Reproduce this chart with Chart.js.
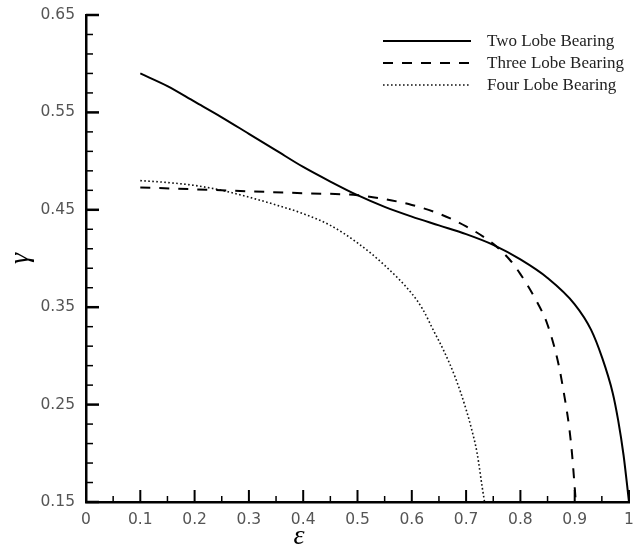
<!DOCTYPE html>
<html>
<head>
<meta charset="utf-8">
<script src="https://cdn.jsdelivr.net/npm/chart.js@4.4.1/dist/chart.umd.min.js"></script>
<style>
    html, body { margin: 0; padding: 0; background: #fff; }
    #wrap { width: 638px; height: 552px; position: relative; }
</style>
</head>
<body>
<div id="wrap"><canvas id="chart"></canvas></div>
<script>
// values
const twoX   = [0.1, 0.15, 0.2, 0.25, 0.3, 0.35, 0.4, 0.45, 0.5, 0.55, 0.6, 0.65, 0.7, 0.75, 0.8, 0.85, 0.9, 0.93, 0.95, 0.97, 0.98, 0.99, 1.0];
const twoY   = [0.590, 0.577, 0.561, 0.545, 0.528, 0.511, 0.494, 0.479, 0.465, 0.453, 0.443, 0.434, 0.425, 0.414, 0.399, 0.380, 0.353, 0.327, 0.299, 0.262, 0.234, 0.198, 0.150];

const threeX = [0.1, 0.2, 0.3, 0.4, 0.5, 0.55, 0.6, 0.65, 0.7, 0.75, 0.78, 0.8, 0.83, 0.85, 0.87, 0.88, 0.89, 0.895, 0.9, 0.902];
const threeY = [0.473, 0.471, 0.469, 0.467, 0.465, 0.461, 0.455, 0.446, 0.433, 0.415, 0.399, 0.384, 0.356, 0.332, 0.292, 0.262, 0.226, 0.200, 0.165, 0.150];

const fourX  = [0.1, 0.15, 0.2, 0.25, 0.3, 0.35, 0.4, 0.45, 0.5, 0.55, 0.6, 0.62, 0.64, 0.66, 0.68, 0.7, 0.71, 0.72, 0.73, 0.734];
const fourY  = [0.480, 0.478, 0.475, 0.470, 0.463, 0.455, 0.446, 0.434, 0.416, 0.393, 0.364, 0.348, 0.326, 0.304, 0.278, 0.245, 0.225, 0.201, 0.164, 0.150];

const seriesNames = ['Two Lobe Bearing', 'Three Lobe Bearing', 'Four Lobe Bearing'];
const yTicks = [0.15, 0.25, 0.35, 0.45, 0.55, 0.65];
const xTicks = [0, 0.1, 0.2, 0.3, 0.4, 0.5, 0.6, 0.7, 0.8, 0.9, 1];
const xTitle = 'ε';
const yTitle = 'γ';

const toPoints = (xs, ys) => xs.map((x, i) => ({ x: x, y: ys[i] }));

// inward tick marks like the original plot
const innerTicks = {
    id: 'innerTicks',
    beforeDatasetsDraw(chart) {
        const ctx = chart.ctx;
        const xs = chart.scales.x, ys = chart.scales.y;
        const left = chart.chartArea.left, bottom = chart.chartArea.bottom;
        ctx.save();
        ctx.strokeStyle = '#000';
        for (let i = 0; i <= 20; i++) {
            const px = xs.getPixelForValue(i * 0.05);
            const major = i % 2 === 0;
            ctx.lineWidth = major ? 2 : 1.5;
            ctx.beginPath();
            ctx.moveTo(px, bottom);
            ctx.lineTo(px, bottom - (major ? 12 : 6));
            ctx.stroke();
        }
        for (let i = 0; i <= 25; i++) {
            const py = ys.getPixelForValue(0.15 + i * 0.02);
            const major = i % 5 === 0;
            ctx.lineWidth = major ? 2.5 : 1.5;
            ctx.beginPath();
            ctx.moveTo(left, py);
            ctx.lineTo(left + (major ? 13 : 7), py);
            ctx.stroke();
        }
        ctx.restore();
    }
};

// legend in the top right corner + the epsilon axis title (sits off centre)
const boxLegend = {
    id: 'boxLegend',
    afterDraw(chart) {
        const ctx = chart.ctx;
        ctx.save();
        ctx.font = '17px "Liberation Serif", "Times New Roman", serif';
        ctx.textBaseline = 'middle';
        ctx.fillStyle = '#222';
        chart.data.datasets.forEach((ds, i) => {
            const y = 41 + i * 22;
            ctx.strokeStyle = ds.borderColor;
            ctx.lineWidth = ds.borderWidth;
            ctx.setLineDash(ds.borderDash || []);
            ctx.beginPath();
            ctx.moveTo(383, y);
            ctx.lineTo(471, y);
            ctx.stroke();
            ctx.fillText(ds.label, 487, y + 1);
        });
        ctx.font = 'italic 28px "Liberation Serif", serif';
        ctx.fillStyle = '#000';
        ctx.textAlign = 'center';
        ctx.fillText(xTitle, 299, 537);
        ctx.restore();
    }
};

const tickFont = { family: '"DejaVu Sans", sans-serif', size: 15.5 };

new Chart(document.getElementById('chart'), {
    type: 'line',
    data: {
        datasets: [
            { label: seriesNames[0], data: toPoints(twoX, twoY), borderColor: '#000', borderWidth: 2, borderDash: [] },
            { label: seriesNames[1], data: toPoints(threeX, threeY), borderColor: '#000', borderWidth: 2, borderDash: [10, 9] },
            { label: seriesNames[2], data: toPoints(fourX, fourY), borderColor: '#111', borderWidth: 1.6, borderDash: [1.6, 2.4] }
        ]
    },
    options: {
        responsive: true,
        maintainAspectRatio: false,
        animation: false,
        layout: { padding: { top: 15, right: 9, left: 0, bottom: 0 } },
        elements: {
            point: { radius: 0 },
            line: { cubicInterpolationMode: 'monotone', fill: false }
        },
        plugins: { legend: { display: false }, tooltip: { enabled: false } },
        scales: {
            x: {
                type: 'linear',
                min: 0, max: 1,
                afterBuildTicks: s => { s.ticks = xTicks.map(v => ({ value: v })); },
                afterFit: s => { s.height = 50; },
                grid: { display: false },
                border: { display: true, color: '#000', width: 2.5 },
                ticks: { font: tickFont, color: '#555', padding: 1, maxRotation: 0,
                         callback: v => String(Math.round(v * 10) / 10) }
            },
            y: {
                type: 'linear',
                min: 0.15, max: 0.65,
                afterBuildTicks: s => { s.ticks = yTicks.map(v => ({ value: v })); },
                afterFit: s => { s.width = 86; },
                grid: { display: false },
                border: { display: true, color: '#000', width: 2.5 },
                ticks: { font: tickFont, color: '#555', padding: 3,
                         callback: v => v.toFixed(2) },
                title: { display: true, text: yTitle, color: '#000',
                         font: { family: '"Liberation Serif", serif', size: 28, style: 'italic' },
                         padding: { top: 4, bottom: 0 } }
            }
        }
    },
    plugins: [innerTicks, boxLegend]
});
</script>
</body>
</html>
